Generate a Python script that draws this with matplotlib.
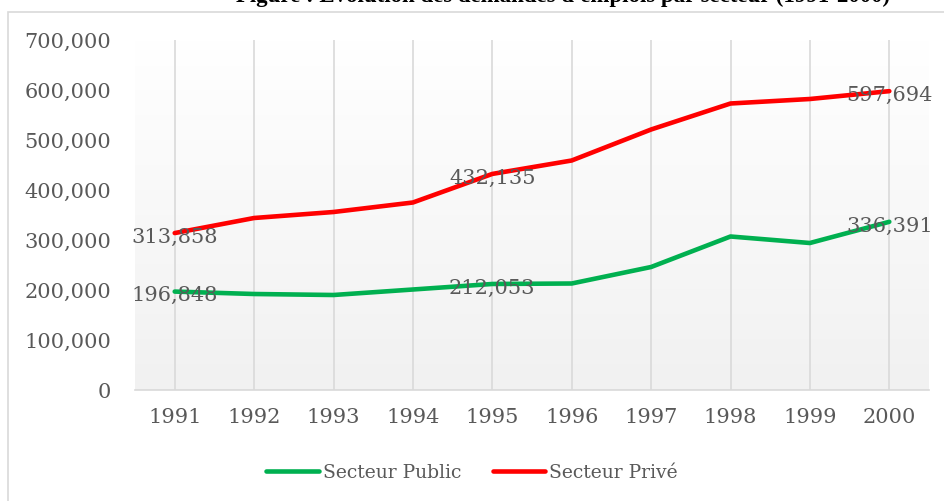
import matplotlib
matplotlib.use("Agg")
import matplotlib.pyplot as plt
from matplotlib.patches import Rectangle
import numpy as np

# Données : nombre d'emplois par secteur
years = ["1991", "1992", "1993", "1994", "1995", "1996", "1997", "1998", "1999", "2000"]
public = [196848, 192000, 190000, 201000, 212053, 213000, 246000, 307000, 294000, 336391]
prive = [313858, 344000, 356000, 375000, 432135, 459000, 521000, 573000, 582000, 597694]
labelled = [0, 4, 9]  # années avec étiquette de valeur

title = "Figure : Evolution des demandes d'emplois par secteur (1991-2000)"

GREEN = "#00B050"
RED = "#FF0000"
TXT = "#595959"
GRID = "#D9D9D9"

plt.rcParams["font.family"] = ["DejaVu Serif"]

fig = plt.figure(figsize=(9.44, 5.01), dpi=100)
fig.patch.set_facecolor("white")

# cadre du graphique (coupé à droite et en bas)
fig.patches.append(Rectangle((8 / 944, -0.1), 1.2, 1.1 - 12 / 501,
                             transform=fig.transFigure, fill=False,
                             edgecolor=GRID, linewidth=1.2))

# titre coupé en haut de l'image
fig.text(890 / 944, 1 - 2 / 501, title, ha="right", va="baseline",
         fontsize=16.5, fontweight="bold", family=["Liberation Serif"], color="black")

ax = fig.add_axes([135 / 944, 111 / 501, 794 / 944, 350 / 501])
x = np.arange(len(years))

# fond en dégradé
grad = np.linspace(1.0, 0.945, 256).reshape(-1, 1)
ax.imshow(np.repeat(grad[:, :, None], 3, axis=2), extent=(-0.5, 9.5, 0, 700000),
          aspect="auto", zorder=0, origin="upper")

for xi in x:
    ax.axvline(xi, color=GRID, linewidth=1.2, zorder=1)

ax.plot(x, public, color=GREEN, linewidth=3.3, solid_capstyle="round", zorder=3,
        label="Secteur Public")
ax.plot(x, prive, color=RED, linewidth=3.3, solid_capstyle="round", zorder=3,
        label="Secteur Privé")

for i in labelled:
    for serie in (public, prive):
        ax.annotate(f"{serie[i]:,}", (x[i], serie[i]), xytext=(0, -3),
                    textcoords="offset points", ha="center", va="center",
                    fontsize=15, color=TXT, zorder=4)

ax.set_xlim(-0.5, 9.5)
ax.set_ylim(0, 700000)
ax.set_xticks(x)
ax.set_xticklabels(years)
ax.set_yticks(np.arange(0, 700001, 100000))
ax.set_yticklabels([f"{v:,}" for v in range(0, 700001, 100000)])
ax.tick_params(axis="both", length=0, labelsize=15, labelcolor=TXT)
ax.tick_params(axis="y", pad=17)
ax.tick_params(axis="x", pad=13)

for side in ("top", "right", "left"):
    ax.spines[side].set_visible(False)
ax.spines["bottom"].set_color(GRID)
ax.spines["bottom"].set_linewidth(1.2)

fig.legend(loc="center", bbox_to_anchor=(472 / 944, 28 / 501), ncol=2, frameon=False,
           fontsize=13.5, handlelength=2.8, handletextpad=0.2, columnspacing=1.7,
           labelcolor=TXT)

fig.savefig("out.png", dpi=100)
